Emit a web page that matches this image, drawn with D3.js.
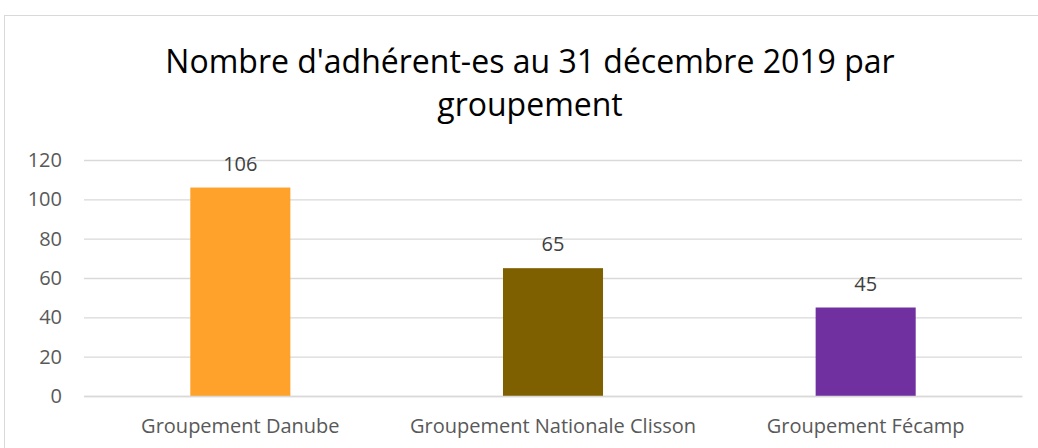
<!DOCTYPE html>
<html>
<head>
<meta charset="utf-8">
<script src="https://cdn.jsdelivr.net/npm/d3@7"></script>
<style>
  body { margin: 0; background: #fff; }
  svg { display: block; font-family: "Open Sans", sans-serif; }
</style>
</head>
<body>
<svg width="1038" height="448"></svg>
<script>
// Chart data
const categories = ["Groupement Danube", "Groupement Nationale Clisson", "Groupement Fécamp"];
const values = [106, 65, 45];
const colors = ["#FFA22B", "#7F6000", "#7030A0"];
const yTicks = [0, 20, 40, 60, 80, 100, 120];
const titleLines = ["Nombre d'adhérent-es au 31 décembre 2019 par", "groupement"];

const svg = d3.select("svg");
const margin = { top: 160, right: 16, bottom: 52, left: 84 };
const width = 1038 - margin.left - margin.right;
const height = 396 - margin.top;

// chart frame
svg.append("rect")
  .attr("x", 4.5).attr("y", 15.5)
  .attr("width", 1060).attr("height", 460)
  .attr("fill", "none").attr("stroke", "#d9d9d9");

// title
svg.append("text")
  .attr("x", 530).attr("y", 73)
  .attr("text-anchor", "middle")
  .attr("font-size", 32)
  .attr("fill", "#000")
  .selectAll("tspan")
  .data(titleLines)
  .enter().append("tspan")
  .attr("x", 530)
  .attr("dy", (d, i) => i === 0 ? 0 : 43)
  .text(d => d);

const g = svg.append("g").attr("transform", `translate(${margin.left},${margin.top})`);

const x = d3.scaleBand()
  .domain(categories)
  .range([0, width])
  .paddingInner(0.68)
  .paddingOuter(0.34);

const y = d3.scaleLinear().domain([0, 120]).range([height, 0]);

// gridlines
const yAxis = g.append("g")
  .call(d3.axisLeft(y).tickValues(yTicks).tickSize(-width).tickPadding(22));
yAxis.select(".domain").remove();
yAxis.selectAll(".tick line").attr("stroke", "#d9d9d9").attr("stroke-width", 1.3);
yAxis.selectAll(".tick text")
  .attr("fill", "#595959")
  .attr("font-size", 20)
  .attr("font-family", "Open Sans, sans-serif");

// bars
g.selectAll(".bar")
  .data(values)
  .enter().append("rect")
  .attr("class", "bar")
  .attr("x", (d, i) => x(categories[i]))
  .attr("y", d => y(d))
  .attr("width", x.bandwidth())
  .attr("height", d => height - y(d))
  .attr("fill", (d, i) => colors[i]);

// data labels
g.selectAll(".label")
  .data(values)
  .enter().append("text")
  .attr("class", "label")
  .attr("x", (d, i) => x(categories[i]) + x.bandwidth() / 2)
  .attr("y", d => y(d) - 17)
  .attr("text-anchor", "middle")
  .attr("font-size", 20)
  .attr("fill", "#404040")
  .text(d => d);

// x axis
const xAxis = g.append("g")
  .attr("transform", `translate(0,${height})`)
  .call(d3.axisBottom(x).tickSize(0).tickPadding(23));
xAxis.select(".domain").attr("stroke", "#d9d9d9").attr("stroke-width", 1.3);
xAxis.selectAll(".tick text")
  .attr("fill", "#595959")
  .attr("font-size", 20)
  .attr("font-family", "Open Sans, sans-serif");
</script>
</body>
</html>
